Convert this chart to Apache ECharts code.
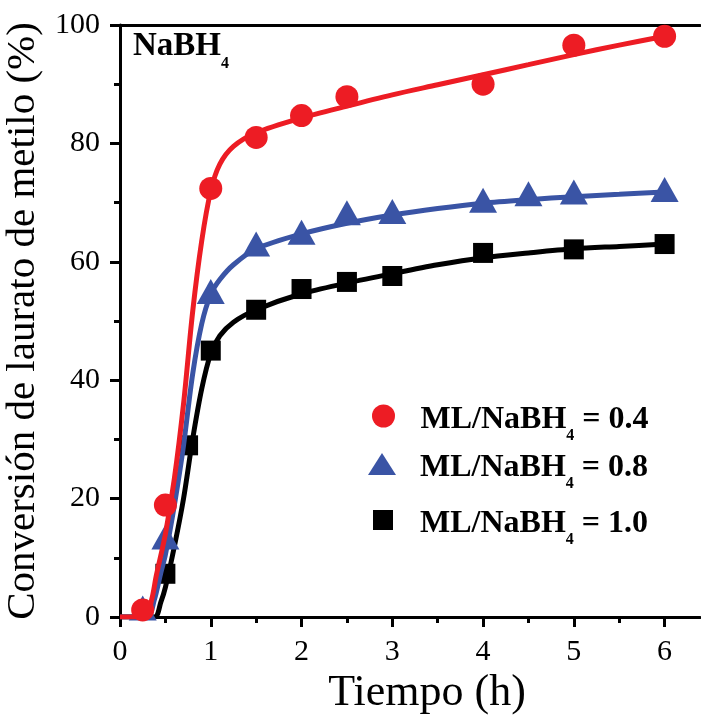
<!DOCTYPE html>
<html>
<head>
<meta charset="utf-8">
<script src="https://cdn.jsdelivr.net/npm/echarts@6/dist/echarts.min.js"></script>
<style>
  html, body { margin: 0; padding: 0; background: #fff; }
  #chart { width: 701px; height: 717px; }
</style>
</head>
<body>
<div id="chart"></div>
<script>
// Measured conversion points (time in h, conversion in %)
const timeR = [0.25, 0.5, 1, 1.5, 2, 2.5, 4, 5, 6];
const convR = [1.2, 18.9, 72.4, 81.0, 84.7, 87.9, 90.0, 96.6, 98.1];

const timeB = [0.25, 0.5, 1, 1.5, 2, 2.5, 3, 4, 4.5, 5, 6];
const convB = [1.5, 13.5, 55.0, 63.0, 65.0, 68.3, 68.5, 70.4, 71.5, 71.8, 72.2];

const timeK = [0.5, 0.75, 1, 1.5, 2, 2.5, 3, 4, 5, 6];
const convK = [7.3, 29.0, 45.0, 51.9, 55.4, 56.6, 57.6, 61.5, 62.1, 63.0];

// Fitted kinetic curves
const fitTimeR = [0, 0.28, 0.35, 0.4, 0.5, 0.6, 0.7, 0.8, 0.9, 1.0, 1.1, 1.25, 1.5, 2, 2.5, 3, 3.5, 4, 4.5, 5, 5.5, 6];
const fitConvR = [0, 0, 3, 7, 14, 23.5, 36, 51.5, 63.5, 72, 76.5, 79.5, 81.8, 84.3, 86.3, 88.2, 89.9, 91.6, 93.3, 95.0, 96.6, 98.1];

const fitTimeB = [0, 0.3, 0.38, 0.45, 0.5, 0.6, 0.7, 0.8, 0.9, 1.0, 1.1, 1.25, 1.5, 2, 2.5, 3, 3.5, 4, 4.5, 5, 5.5, 6];
const fitConvB = [0, 0, 3, 7.5, 10.5, 19, 29, 41, 49.5, 54.5, 57, 59.5, 62.2, 64.7, 66.5, 67.9, 69.0, 69.9, 70.5, 71.0, 71.4, 71.8];

const fitTimeK = [0, 0.38, 0.45, 0.5, 0.6, 0.7, 0.8, 0.9, 1.0, 1.1, 1.25, 1.5, 2, 2.5, 3, 3.5, 4, 4.5, 5, 5.5, 6];
const fitConvK = [0, 0, 2.5, 5, 12, 20, 30, 38.5, 44.5, 47.5, 49.8, 51.9, 54.6, 56.4, 58.0, 59.5, 60.7, 61.5, 62.2, 62.6, 63.0];

const seriesNames = ['ML/NaBH4 = 0.4', 'ML/NaBH4 = 0.8', 'ML/NaBH4 = 1.0'];
const legendLabels = ['{m|ML/NaBH}{s|4}{m| = 0.4}', '{m|ML/NaBH}{s|4}{m| = 0.8}', '{m|ML/NaBH}{s|4}{m| = 1.0}'];

const xMajor = [0, 1, 2, 3, 4, 5, 6];
const xMinor = [0.5, 1.5, 2.5, 3.5, 4.5, 5.5];

const RED = '#ED1C24', BLUE = '#3A54A5', BLACK = '#000000';
const SERIF = "'Liberation Serif', 'Times New Roman', serif";

const pairs = (xs, ys) => xs.map((x, i) => [x, ys[i]]);

const legendRich = {
  m: { fontFamily: SERIF, fontWeight: 'bold', fontSize: 32, lineHeight: 32, color: '#000', verticalAlign: 'top' },
  s: { fontFamily: SERIF, fontWeight: 'bold', fontSize: 16, lineHeight: 16, color: '#000', padding: [24, 0, 0, 0], verticalAlign: 'top' }
};

function legendFor(idx, opts) {
  return Object.assign({
    orient: 'vertical',
    padding: 0,
    data: [seriesNames[idx]],
    formatter: () => legendLabels[idx],
    selectedMode: false,
    textStyle: { rich: legendRich, padding: [8, 0, 0, opts.pad] }
  }, opts.box);
}

const chart = echarts.init(document.getElementById('chart'), null, { renderer: 'canvas' });

const axisLineStyle = { color: '#000', width: 3 };
const lineSmooth = 0.3;

chart.setOption({
  animation: false,
  backgroundColor: '#fff',
  grid: { left: 120, top: 25, right: 1, bottom: 100, containLabel: false, outerBoundsMode: 'none' },
  xAxis: [
    {
      type: 'value', position: 'bottom', min: 0, max: 6.39,
      name: 'Tiempo (h)', nameLocation: 'middle', nameGap: 41,
      nameTextStyle: { fontFamily: SERIF, fontSize: 44, color: '#000', padding: [0, 0, 0, 34] },
      axisLine: { lineStyle: axisLineStyle },
      axisTick: { show: true, inside: false, length: 10, lineStyle: axisLineStyle, customValues: xMajor },
      axisLabel: { fontFamily: SERIF, fontSize: 30, color: '#000', margin: 20, customValues: xMajor },
      splitLine: { show: false }
    },
    {
      type: 'value', position: 'bottom', min: 0, max: 6.39,
      axisLine: { show: false },
      axisTick: { show: true, inside: false, length: 6, lineStyle: axisLineStyle, customValues: xMinor },
      axisLabel: { show: false },
      splitLine: { show: false }
    },
    {
      type: 'value', position: 'top', min: 0, max: 6.39,
      axisLine: { lineStyle: axisLineStyle },
      axisTick: { show: false },
      axisLabel: { show: false },
      splitLine: { show: false }
    }
  ],
  yAxis: {
    type: 'value', min: 0, max: 100, interval: 20,
    name: 'Conversión de laurato de metilo (%)', nameLocation: 'middle', nameGap: 63,
    nameTextStyle: { fontFamily: SERIF, fontSize: 41, color: '#000' },
    axisLine: { show: true, lineStyle: axisLineStyle },
    axisTick: { show: true, inside: false, length: 10, lineStyle: axisLineStyle },
    minorTick: { show: true, splitNumber: 2, length: 6, lineStyle: axisLineStyle },
    axisLabel: { fontFamily: SERIF, fontSize: 30, color: '#000', margin: 20 },
    splitLine: { show: false }
  },
  legend: [
    legendFor(0, { pad: 12, box: { left: 372, top: 404, itemWidth: 40, itemHeight: 23 } }),
    legendFor(1, { pad: 19, box: { left: 368, top: 452, itemWidth: 28, itemHeight: 22, symbolKeepAspect: false } }),
    legendFor(2, { pad: 22, box: { left: 373, top: 508, itemWidth: 20, itemHeight: 20 } })
  ],
  graphic: [
    {
      type: 'text', left: 133, top: 30, z: 10,
      style: {
        text: '{b|NaBH}{s|4}',
        rich: {
          b: { fontFamily: SERIF, fontWeight: 'bold', fontSize: 33, lineHeight: 33, fill: '#000', verticalAlign: 'top' },
          s: { fontFamily: SERIF, fontWeight: 'bold', fontSize: 16, lineHeight: 16, fill: '#000', padding: [26, 0, 0, 0], verticalAlign: 'top' }
        }
      }
    }
  ],
  series: [
    {
      name: 'fit 1.0', type: 'line', data: pairs(fitTimeK, fitConvK), smooth: lineSmooth,
      showSymbol: false, lineStyle: { color: BLACK, width: 5 }, itemStyle: { color: BLACK }, z: 2, silent: true
    },
    {
      name: seriesNames[2], type: 'scatter', data: pairs(timeK, convK), symbol: 'rect', symbolSize: 20,
      itemStyle: { color: BLACK, opacity: 1 }, z: 3
    },
    {
      name: 'fit 0.8', type: 'line', data: pairs(fitTimeB, fitConvB), smooth: lineSmooth,
      showSymbol: false, lineStyle: { color: BLUE, width: 5 }, itemStyle: { color: BLUE }, z: 4, silent: true
    },
    {
      name: seriesNames[1], type: 'scatter', data: pairs(timeB, convB), symbol: 'triangle', symbolSize: [28, 25],
      itemStyle: { color: BLUE, opacity: 1 }, z: 5
    },
    {
      name: 'fit 0.4', type: 'line', data: pairs(fitTimeR, fitConvR), smooth: lineSmooth,
      showSymbol: false, lineStyle: { color: RED, width: 5 }, itemStyle: { color: RED }, z: 6, silent: true
    },
    {
      name: seriesNames[0], type: 'scatter', data: pairs(timeR, convR), symbol: 'circle', symbolSize: 23,
      itemStyle: { color: RED, opacity: 1 }, z: 7
    }
  ]
});
</script>
</body>
</html>
